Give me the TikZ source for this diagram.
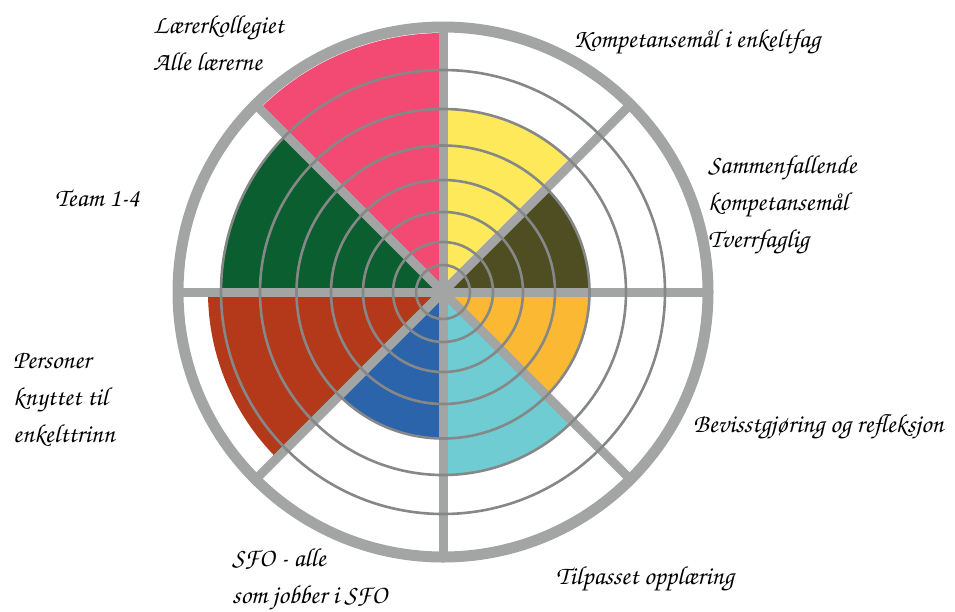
\documentclass[tikz,border=0pt]{standalone}
\usepackage[T1]{fontenc}
\usetikzlibrary{calc}
\definecolor{spokegray}{HTML}{A3A5A4}
\definecolor{ringgray}{HTML}{868888}
\definecolor{wpink}{HTML}{F24A73}
\definecolor{wyellow}{HTML}{FDE95A}
\definecolor{wolive}{HTML}{4E4E22}
\definecolor{worange}{HTML}{FBB832}
\definecolor{wcyan}{HTML}{6ECCD2}
\definecolor{wblue}{HTML}{2B64AA}
\definecolor{wred}{HTML}{B4391B}
\definecolor{wgreen}{HTML}{0A5E2F}
\tikzset{
  lbl/.style={anchor=base west, inner sep=0pt, align=left,
    font=\fontsize{26}{37}\fontfamily{pzc}\fontseries{mb}\fontshape{it}\selectfont},
  spoke/.style={draw=spokegray, line width=9pt},
  level/.style={draw=ringgray, line width=2.6pt},
  rim/.style={draw=spokegray, line width=11pt},
}
\newcommand{\sector}[4]{% colour, start angle, end angle, radius
  \fill[#1] (c) -- ($(c)+(#2:#4pt)$) arc[start angle=#2, end angle=#3, radius=#4pt] -- cycle;}
\begin{document}
\begin{tikzpicture}[x=1pt,y=-1pt]
\useasboundingbox (0,0) rectangle (955,611);
\coordinate (c) at (443,292);
% coloured sectors
\sector{wolive}{0}{45}{147}
\sector{wyellow}{45}{90}{184}
\sector{wpink}{90}{135}{259}
\sector{wgreen}{135}{180}{222}
\sector{wred}{180}{225}{235}
\sector{wblue}{225}{270}{146}
\sector{wcyan}{270}{315}{183}
\sector{worange}{315}{360}{147}
% spokes and rim
\foreach \a in {0,45,...,315}
  \draw[spoke] (c) -- ($(c)+(\a:265pt)$);
\draw[rim] (c) circle[radius=265pt];
% levels
\foreach \r in {27,50,80,112,146.5,183,222}
  \draw[level] (c) circle[radius=\r pt];
% labels (anchored at the baseline of the last line)
\node[lbl] (l1) at (153,70) {L\ae rerkollegiet\\Alle l\ae rerne};
\node[lbl] (l2) at (573,47) {Kompetansem\aa l i enkeltfag};
\node[lbl] (l3) at (708,247) {Sammenfallende\\kompetansem\aa l\\Tverrfaglig};
\node[lbl] (l4) at (55,206) {Team 1-4};
\node[lbl] (l5) at (13,442) {Personer\\knyttet til\\enkelttrinn};
\node[lbl] (l6) at (693,432) {Bevisstgj\o ring og refleksjon};
\node[lbl] (l7) at (556,584) {Tilpasset oppl\ae ring};
\node[lbl] (l8) at (232,603) {SFO - alle\\som jobber i SFO};
\end{tikzpicture}
\end{document}
